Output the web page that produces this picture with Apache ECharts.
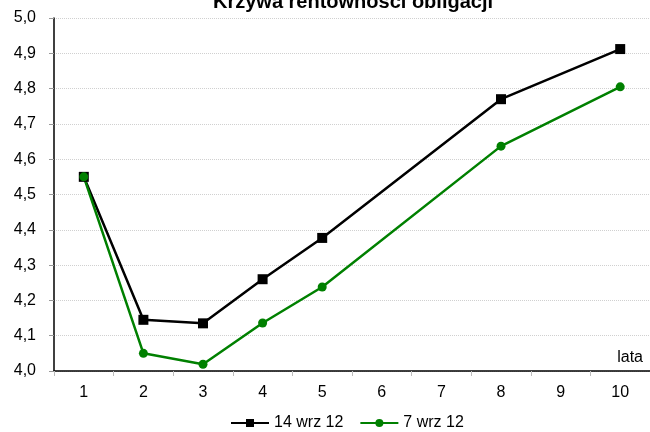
<!DOCTYPE html>
<html>
<head>
<meta charset="utf-8">
<script src="https://cdn.jsdelivr.net/npm/echarts@6/dist/echarts.min.js"></script>
<style>
  body { margin: 0; background: #fff; }
  #chart { width: 650px; height: 432px; }
</style>
</head>
<body>
<div id="chart"></div>
<script>
// lata
const years = ['1', '2', '3', '4', '5', '6', '7', '8', '9', '10']
// rentownosc - brak punktow dla 6, 7, 9
const sep14 = [4.55, 4.145, 4.135, 4.26, 4.377, null, null, 4.77, null, 4.912]
const sep7 = [4.55, 4.05, 4.019, 4.136, 4.238, null, null, 4.637, null, 4.805]

const font = 'Liberation Sans, Arial, sans-serif'

let myChart = echarts.init(document.getElementById('chart'))
myChart.setOption({
  animation: false,
  title: {
    text: 'Krzywa rentowności obligacji',
    left: 348,
    textAlign: 'center',
    top: -13,
    textStyle: { fontFamily: font, fontSize: 20, fontWeight: 'bold', color: '#000' }
  },
  grid: { left: 54, right: -3, top: 18, bottom: 61 },
  legend: {
    top: 410,
    left: 225,
    itemWidth: 38,
    itemHeight: 10,
    itemGap: 16,
    textStyle: { fontFamily: font, fontSize: 16, color: '#000' },
    data: ['14 wrz 12', '7 wrz 12']
  },
  xAxis: {
    type: 'category',
    data: years,
    boundaryGap: true,
    name: 'lata',
    nameLocation: 'end',
    nameGap: 0,
    nameTextStyle: {
      fontFamily: font, fontSize: 16, color: '#000',
      align: 'right', verticalAlign: 'bottom', padding: [0, 7, 5, 0]
    },
    axisLine: { lineStyle: { color: '#000', width: 1.5 } },
    axisTick: { show: true, length: 5, lineStyle: { color: '#bbb' } },
    axisLabel: { fontFamily: font, fontSize: 16, color: '#000', margin: 14 }
  },
  yAxis: {
    type: 'value',
    min: 4.0,
    max: 5.0,
    interval: 0.1,
    axisLine: { show: true, lineStyle: { color: '#000', width: 1.5 } },
    axisTick: { show: true, length: 5, lineStyle: { color: '#999' } },
    axisLabel: {
      fontFamily: font, fontSize: 16, color: '#000', margin: 18,
      formatter: v => v.toFixed(1).replace('.', ',')
    },
    splitLine: { lineStyle: { color: '#d0d0d0', type: 'dotted', width: 1 } }
  },
  series: [
    {
      name: '14 wrz 12',
      type: 'line',
      data: sep14,
      connectNulls: true,
      symbol: 'rect',
      symbolSize: 10,
      lineStyle: { color: '#000', width: 2.5 },
      itemStyle: { color: '#000' }
    },
    {
      name: '7 wrz 12',
      type: 'line',
      data: sep7,
      connectNulls: true,
      symbol: 'circle',
      symbolSize: 9,
      lineStyle: { color: '#008000', width: 2.5 },
      itemStyle: { color: '#008000' }
    }
  ]
})
</script>
</body>
</html>
